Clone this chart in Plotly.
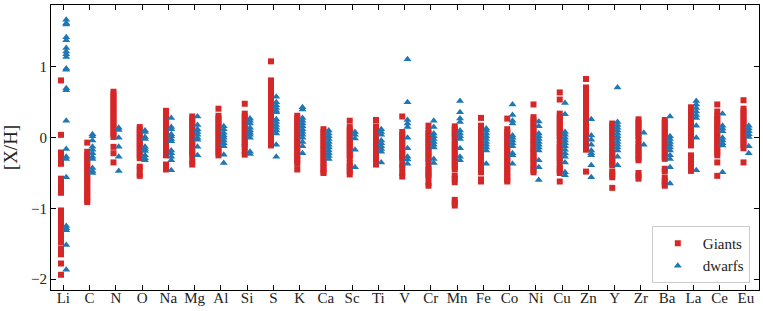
import plotly.graph_objects as go

elements = ["Li", "C", "N", "O", "Na", "Mg", "Al", "Si", "S", "K", "Ca", "Sc", "Ti", "V",
            "Cr", "Mn", "Fe", "Co", "Ni", "Cu", "Zn", "Y", "Zr", "Ba", "La", "Ce", "Eu"]

G_Li = [0.81, 0.04, -0.21, -0.25, -0.29, -0.33, -0.37, -0.58, -0.62, -0.66, -0.70, -0.74, -0.78,
        -1.03, -1.07, -1.11, -1.15, -1.19, -1.23, -1.27, -1.31, -1.39, -1.43, -1.48, -1.57, -1.61,
        -1.65, -1.78, -1.94]
G_C = [-0.07, -0.20, -0.24, -0.28, -0.32, -0.36, -0.40, -0.44, -0.48, -0.52, -0.56, -0.60, -0.63,
       -0.68, -0.72, -0.76, -0.80, -0.84, -0.88, -0.91]
G_N = [0.65, 0.61, 0.57, 0.53, 0.49, 0.45, 0.41, 0.37, 0.33, 0.29, 0.25, 0.21, 0.17, 0.13, 0.09,
       0.05, 0.01, -0.13, -0.22, -0.35]
G_O = [0.15, 0.11, 0.07, 0.03, -0.01, -0.05, -0.09, -0.13, -0.17, -0.21, -0.25, -0.29, -0.41,
       -0.44, -0.51, -0.54]
G_Na = [0.38, 0.31, 0.27, 0.23, 0.19, 0.15, 0.11, 0.07, 0.03, -0.01, -0.05, -0.09, -0.13, -0.17,
        -0.21, -0.25, -0.38, -0.42, -0.45]
G_Mg = [0.30, 0.26, 0.22, 0.18, 0.14, 0.10, 0.06, 0.02, -0.02, -0.06, -0.10, -0.14, -0.18, -0.22,
        -0.25, -0.33, -0.38]
G_Al = [0.41, 0.31, 0.27, 0.23, 0.19, 0.15, 0.11, 0.07, 0.03, -0.01, -0.05, -0.09, -0.13, -0.17,
        -0.21, -0.25]
G_Si = [0.48, 0.34, 0.30, 0.26, 0.22, 0.18, 0.14, 0.10, 0.06, 0.02, -0.02, -0.06, -0.10, -0.13,
        -0.20, -0.24]
G_S = [1.08, 0.81, 0.77, 0.73, 0.69, 0.65, 0.61, 0.57, 0.53, 0.49, 0.45, 0.41, 0.37, 0.33, 0.29,
       0.23, 0.19, 0.14, 0.10, 0.04, 0.00, -0.04, -0.08, -0.11]
G_K = [0.31, 0.27, 0.23, 0.19, 0.15, 0.11, 0.07, 0.03, -0.01, -0.05, -0.09, -0.13, -0.17, -0.21,
       -0.25, -0.29, -0.33, -0.37, -0.45]
G_Ca = [0.12, 0.08, 0.04, 0.00, -0.04, -0.08, -0.12, -0.16, -0.20, -0.24, -0.28, -0.32, -0.36,
        -0.40, -0.44, -0.48, -0.50]
G_Sc = [0.24, 0.15, 0.11, 0.07, 0.03, -0.01, -0.05, -0.09, -0.13, -0.17, -0.21, -0.25, -0.29,
        -0.36, -0.40, -0.44, -0.48, -0.52]
G_Ti = [0.25, 0.16, 0.12, 0.08, 0.04, 0.00, -0.04, -0.08, -0.12, -0.16, -0.20, -0.24, -0.28,
        -0.32, -0.36, -0.38]
G_V = [0.30, 0.08, 0.04, 0.00, -0.04, -0.08, -0.12, -0.16, -0.20, -0.24, -0.28, -0.30, -0.38,
       -0.42, -0.50, -0.55]
G_Cr = [0.17, 0.10, 0.06, 0.02, -0.02, -0.06, -0.10, -0.14, -0.18, -0.22, -0.26, -0.30, -0.34,
        -0.41, -0.45, -0.49, -0.53, -0.56, -0.64, -0.68]
G_Mn = [0.16, 0.12, 0.08, 0.04, 0.01, -0.05, -0.09, -0.13, -0.17, -0.21, -0.25, -0.29, -0.33,
        -0.37, -0.41, -0.45, -0.54, -0.58, -0.63, -0.88, -0.92, -0.96]
G_Fe = [0.28, 0.17, 0.13, 0.09, 0.05, 0.01, -0.03, -0.07, -0.11, -0.15, -0.19, -0.23, -0.27,
        -0.31, -0.37, -0.41, -0.45, -0.49, -0.59, -0.62]
G_Co = [0.27, 0.12, 0.08, 0.04, 0.00, -0.04, -0.08, -0.12, -0.16, -0.20, -0.24, -0.28, -0.32,
        -0.36, -0.40, -0.44, -0.48, -0.52, -0.56, -0.60, -0.62]
G_Ni = [0.47, 0.29, 0.25, 0.21, 0.17, 0.13, 0.09, 0.05, 0.01, -0.03, -0.07, -0.11, -0.15, -0.18,
        -0.22, -0.26, -0.30, -0.33, -0.38, -0.42, -0.46, -0.49]
G_Cu = [0.64, 0.54, 0.34, 0.30, 0.26, 0.22, 0.18, 0.14, 0.10, 0.06, 0.02, -0.03, -0.09, -0.13,
        -0.17, -0.21, -0.25, -0.29, -0.33, -0.39, -0.43, -0.47, -0.50, -0.62]
G_Zn = [0.83, 0.71, 0.67, 0.63, 0.59, 0.55, 0.51, 0.47, 0.43, 0.39, 0.35, 0.31, 0.27, 0.23, 0.19,
        0.15, 0.11, 0.07, 0.03, -0.01, -0.05, -0.09, -0.14, -0.17, -0.48]
G_Y = [0.20, 0.16, 0.12, 0.08, 0.04, 0.00, -0.04, -0.08, -0.12, -0.16, -0.20, -0.24, -0.28, -0.32,
       -0.36, -0.39, -0.48, -0.52, -0.56, -0.71]
G_Zr = [0.26, 0.22, 0.18, 0.14, 0.10, 0.06, 0.02, -0.03, -0.09, -0.13, -0.17, -0.21, -0.25, -0.29,
        -0.32, -0.50, -0.54, -0.58]
G_Ba = [0.25, 0.21, 0.17, 0.13, 0.09, 0.05, 0.01, -0.03, -0.07, -0.11, -0.15, -0.19, -0.23, -0.27,
        -0.30, -0.44, -0.48, -0.57, -0.61, -0.65, -0.68]
G_La = [0.43, 0.39, 0.35, 0.31, 0.27, 0.23, 0.19, 0.15, 0.11, 0.07, 0.03, -0.01, -0.04, -0.11,
        -0.25, -0.29, -0.33, -0.37, -0.40, -0.47]
G_Ce = [0.47, 0.37, 0.31, 0.27, 0.23, 0.19, 0.15, 0.11, 0.07, 0.03, -0.01, -0.05, -0.09, -0.13,
        -0.17, -0.21, -0.25, -0.35, -0.54]
G_Eu = [0.53, 0.41, 0.37, 0.33, 0.29, 0.25, 0.21, 0.17, 0.13, 0.09, 0.05, 0.01, -0.03, -0.07,
        -0.11, -0.15, -0.35]

D_Li = [1.67, 1.62, 1.60, 1.42, 1.38, 1.27, 1.22, 1.18, 1.14, 0.98, 0.96, 0.70, 0.67, 0.24, -0.16,
        -0.27, -0.30, -0.56, -1.25, -1.28, -1.31, -1.52, -1.87]
D_C = [0.05, 0.02, -0.04, -0.13, -0.17, -0.22, -0.27, -0.30, -0.43, -0.47, -0.50]
D_N = [0.14, 0.11, 0.00, -0.13, -0.27, -0.47]
D_O = [0.10, 0.08, 0.01, -0.02, -0.13, -0.16, -0.19, -0.25, -0.29, -0.32]
D_Na = [0.28, 0.15, 0.12, 0.05, 0.02, -0.02, -0.05, -0.18, -0.22, -0.27, -0.32, -0.46]
D_Mg = [0.30, 0.18, 0.12, 0.08, 0.04, 0.00, -0.03, -0.13, -0.25]
D_Al = [0.16, 0.12, 0.07, 0.03, 0.00, -0.04, -0.08, -0.12, -0.24, -0.36]
D_Si = [0.27, 0.24, 0.20, 0.14, 0.10, 0.07, 0.04, 0.00, -0.20, -0.23]
D_S = [0.58, 0.50, 0.46, 0.42, 0.38, 0.36, 0.26, 0.22, 0.18, 0.14, 0.10, 0.06, -0.10, -0.27]
D_K = [0.43, 0.40, 0.28, 0.24, 0.20, 0.16, 0.12, 0.08, 0.04, 0.00, -0.06, -0.12, -0.22]
D_Ca = [0.10, 0.06, 0.02, -0.02, -0.06, -0.10, -0.14, -0.18, -0.22, -0.26, -0.30]
D_Sc = [0.08, 0.04, -0.01, -0.17, -0.42]
D_Ti = [0.12, 0.08, 0.04, -0.04, -0.08, -0.12, -0.16, -0.20, -0.35]
D_V = [1.11, 0.50, 0.25, 0.20, 0.15, 0.00, -0.15, -0.27, -0.31, -0.37]
D_Cr = [0.24, 0.15, 0.06, 0.02, -0.02, -0.06, -0.10, -0.14, -0.30, -0.36]
D_Mn = [0.52, 0.36, 0.27, 0.22, 0.10, 0.06, 0.02, -0.02, -0.15, -0.27, -0.32]
D_Fe = [0.13, 0.10, 0.06, 0.02, -0.02, -0.06, -0.10, -0.14, -0.18, -0.37]
D_Co = [0.47, 0.32, 0.24, 0.20, 0.03, 0.00, -0.04, -0.08, -0.12, -0.22, -0.25, -0.37]
D_Ni = [0.23, 0.16, 0.06, 0.02, -0.02, -0.06, -0.10, -0.14, -0.18, -0.32, -0.42, -0.60]
D_Cu = [0.49, 0.33, 0.08, 0.04, 0.00, -0.04, -0.08, -0.12, -0.17, -0.22, -0.27, -0.35, -0.49,
        -0.53]
D_Zn = [0.26, 0.03, -0.03, -0.10, -0.18, -0.22, -0.25, -0.39, -0.56]
D_Y = [0.71, 0.22, 0.18, 0.14, 0.10, 0.06, 0.02, -0.02, -0.06, -0.10, -0.14, -0.18, -0.27, -0.39]
D_Zr = [0.07, -0.10]
D_Ba = [0.30, 0.02, -0.02, -0.06, -0.10, -0.14, -0.18, -0.25, -0.30, -0.42, -0.65]
D_La = [0.52, 0.47, 0.42, 0.37, 0.32, 0.28, 0.17, 0.00, -0.46]
D_Ce = [0.34, 0.17, 0.13, 0.09, 0.00, -0.04, -0.08, -0.11, -0.49]
D_Eu = [0.17, 0.13, 0.09, 0.05, 0.01, -0.12, -0.22]

giants = [G_Li, G_C, G_N, G_O, G_Na, G_Mg, G_Al, G_Si, G_S, G_K, G_Ca, G_Sc, G_Ti, G_V,
          G_Cr, G_Mn, G_Fe, G_Co, G_Ni, G_Cu, G_Zn, G_Y, G_Zr, G_Ba, G_La, G_Ce, G_Eu]
dwarfs = [D_Li, D_C, D_N, D_O, D_Na, D_Mg, D_Al, D_Si, D_S, D_K, D_Ca, D_Sc, D_Ti, D_V,
          D_Cr, D_Mn, D_Fe, D_Co, D_Ni, D_Cu, D_Zn, D_Y, D_Zr, D_Ba, D_La, D_Ce, D_Eu]

y_ticks = [-2, -1, 0, 1]
y_tick_labels = ["\u22122", "\u22121", "0", "1"]

G_OFF, D_OFF = -0.09, 0.11

gx, gy, dx, dy = [], [], [], []
for i, vals in enumerate(giants):
    gx += [i + G_OFF] * len(vals)
    gy += vals
for i, vals in enumerate(dwarfs):
    dx += [i + D_OFF] * len(vals)
    dy += vals

FONT = "Liberation Serif"

fig = go.Figure()
fig.add_trace(go.Scatter(x=gx, y=gy, mode="markers", name="Giants",
                         marker=dict(symbol="square", size=6, color="#d62728",
                                     line=dict(width=0))))
fig.add_trace(go.Scatter(x=dx, y=dy, mode="markers", name="dwarfs",
                         marker=dict(symbol="triangle-up", size=7, color="#1f77b4",
                                     line=dict(width=0))))

axis_common = dict(showline=True, linecolor="black", linewidth=1, mirror="ticks",
                   ticks="inside", ticklen=5, tickwidth=1, tickcolor="black",
                   showgrid=False, zeroline=False,
                   tickfont=dict(family=FONT, size=15, color="#222"))

fig.update_xaxes(range=[-0.47, 26.5], tickmode="array",
                 tickvals=list(range(len(elements))), ticktext=elements,
                 ticklabelstandoff=-6, **axis_common)
fig.update_yaxes(range=[-2.155, 1.877], tickmode="array", tickvals=y_ticks,
                 ticktext=y_tick_labels,
                 title=dict(text="[X/H]", font=dict(family=FONT, size=19, color="#222"),
                            standoff=8),
                 **axis_common)

fig.update_layout(
    width=763, height=311,
    margin=dict(l=51, r=4, t=5, b=21, autoexpand=False),
    paper_bgcolor="white", plot_bgcolor="white",
    showlegend=True,
    legend=dict(x=0.987, y=0.025, xanchor="right", yanchor="bottom",
                bgcolor="rgba(255,255,255,0.8)", bordercolor="#cccccc", borderwidth=1,
                font=dict(family=FONT, size=15, color="#222"),
                itemwidth=40, tracegroupgap=4),
)

fig.write_html("out.html", config={"displayModeBar": False})

with open("out.html", "r", encoding="utf-8") as f:
    html = f.read()
html = html.replace("<head>", "<head><style>html,body{margin:0;padding:0;overflow:hidden;}</style>", 1)
with open("out.html", "w", encoding="utf-8") as f:
    f.write(html)
